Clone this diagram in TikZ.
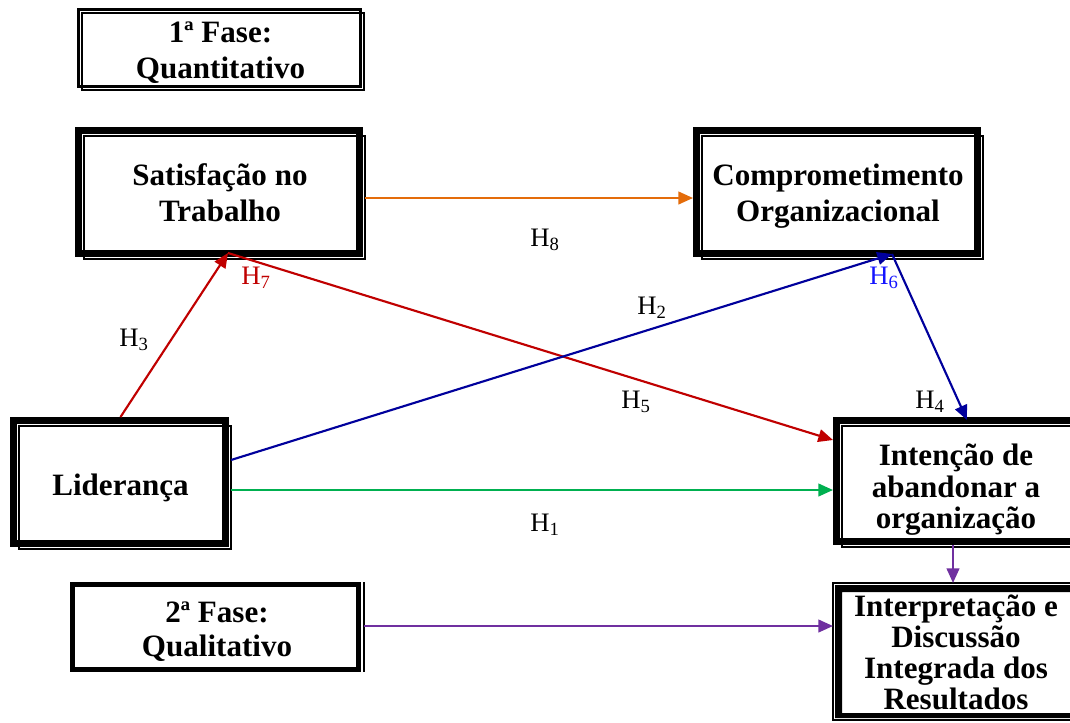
\documentclass[tikz,border=0pt]{standalone}
\usepackage{fontspec}
\setmainfont{Liberation Serif}
\usetikzlibrary{arrows.meta,calc}
\definecolor{cOrange}{HTML}{E46C0A}
\definecolor{cRed}{HTML}{C00000}
\definecolor{cNavy}{HTML}{00009C}
\definecolor{cBlue}{HTML}{1414FF}
\definecolor{cGreen}{HTML}{00B050}
\definecolor{cPurple}{HTML}{7030A0}
\tikzset{
  shapebox/.style={inner sep=0pt, outer sep=0pt, draw=none},
  boxtext/.style={font=\bfseries\fontsize{23.3}{27}\selectfont, align=center, inner sep=0pt, outer sep=0pt},
  lab/.style={font=\fontsize{20}{24}\selectfont, inner sep=0pt},
  conn/.style={line width=1.6pt, -{Triangle[length=11pt,width=9.5pt]}},
}
% thick band up-left, thin line offset down-right
\newcommand\dframe[2]{%
  \draw[line width=#2*0.75pt] ($(#1.north west)+(#2/2,#2/2)$) rectangle ($(#1.south east)-(2.5+#2/2,2.5+#2/2)$);
  \draw[line width=0.9pt] ($(#1.north west)+(#2+2,#2+2)$) rectangle (#1.south east);}
\begin{document}
\begin{tikzpicture}[x=0.75pt,y=-0.75pt]
\clip (0,0) rectangle (1070,722);
\fill[white] (0,0) rectangle (1070,722);

% box outlines
\node[shapebox, minimum width=215.25pt, minimum height=61.5pt] (f1) at (220.5,49) {};
\node[shapebox, minimum width=217.5pt, minimum height=99pt] (sat) at (220,193) {};
\node[shapebox, minimum width=217.5pt, minimum height=99pt] (com) at (838,193) {};
\node[shapebox, minimum width=165.75pt, minimum height=99pt] (lid) at (120.5,483) {};
\node[shapebox, minimum width=184.5pt, minimum height=97.5pt] (int) at (956,482) {};
\node[shapebox, minimum width=184.5pt, minimum height=102.75pt] (res) at (956,651.5) {};
\node[shapebox, minimum width=220.5pt, minimum height=67.5pt] (f2) at (217,627) {};

\dframe{f1}{3}
\dframe{sat}{7}
\dframe{com}{7}
\dframe{lid}{7}
\dframe{int}{7}
\draw[line width=0.9pt] (res.north west) rectangle (res.south east);
\fill[even odd rule] ($(res.north west)+(2,2)$) rectangle ($(res.south east)-(2,2)$)
  ($(res.north west)+(9,9)$) rectangle ($(res.south east)-(9,7)$);
\draw[line width=3.75pt] ($(f2.north west)+(2.5,2.5)$) rectangle ($(f2.south east)-(5.5,2.5)$);
\draw[line width=0.9pt] (f2.north east) -- (f2.south east);

% box texts
\node[boxtext] (f1t) at (220.5,53) {1ª Fase:\\Quantitativo};
\node[boxtext] (satt) at (220,193) {Satisfação no\\Trabalho};
\node[boxtext] (comt) at (838,196) {Comprometimento\\Organizacional};
\node[boxtext] (lidt) at (120.5,488) {Liderança};
\node[boxtext, font=\bfseries\fontsize{23.3}{23.6}\selectfont] (intt) at (956,490) {Intenção de\\abandonar a\\organização};
\node[boxtext, font=\bfseries\fontsize{23.3}{23.2}\selectfont] (rest) at (956,652) {Interpretação e\\Discussão\\Integrada dos\\Resultados};
\node[boxtext, font=\bfseries\fontsize{23.3}{25.5}\selectfont] (f2t) at (217,632) {2ª Fase:\\Qualitativo};

% connection points on box edges
\coordinate (sattip) at (228,253);
\coordinate (comtip) at (892,254);

% connectors
\draw[conn, cOrange] (sat.east |- 0,198) -- (com.west |- 0,198);
\draw[conn, cRed] (lid.north) -- (sattip);
\draw[conn, cRed] (sattip) -- (int.west |- 0,440);
\draw[conn, cNavy] (lid.east |- 0,460) -- (comtip);
\draw[conn, cNavy] (comtip) -- (967,420);
\draw[conn, cGreen] (lid.east |- 0,490) -- (int.west |- 0,490);
\draw[conn, cPurple] (953,545) -- (res.north -| 953,0);
\draw[conn, cPurple] (f2.east |- 0,626) -- (res.west |- 0,626);

% labels
\node[lab] (h8) at (545,240) {H\textsubscript{8}};
\node[lab, text=cRed] (h7) at (256,278) {H\textsubscript{7}};
\node[lab] (h3) at (134,340) {H\textsubscript{3}};
\node[lab] (h2) at (652,308) {H\textsubscript{2}};
\node[lab, text=cBlue] (h6) at (884,278) {H\textsubscript{6}};
\node[lab] (h5) at (636,402) {H\textsubscript{5}};
\node[lab] (h4) at (930,402) {H\textsubscript{4}};
\node[lab] (h1) at (545,525) {H\textsubscript{1}};
\end{tikzpicture}
\end{document}
